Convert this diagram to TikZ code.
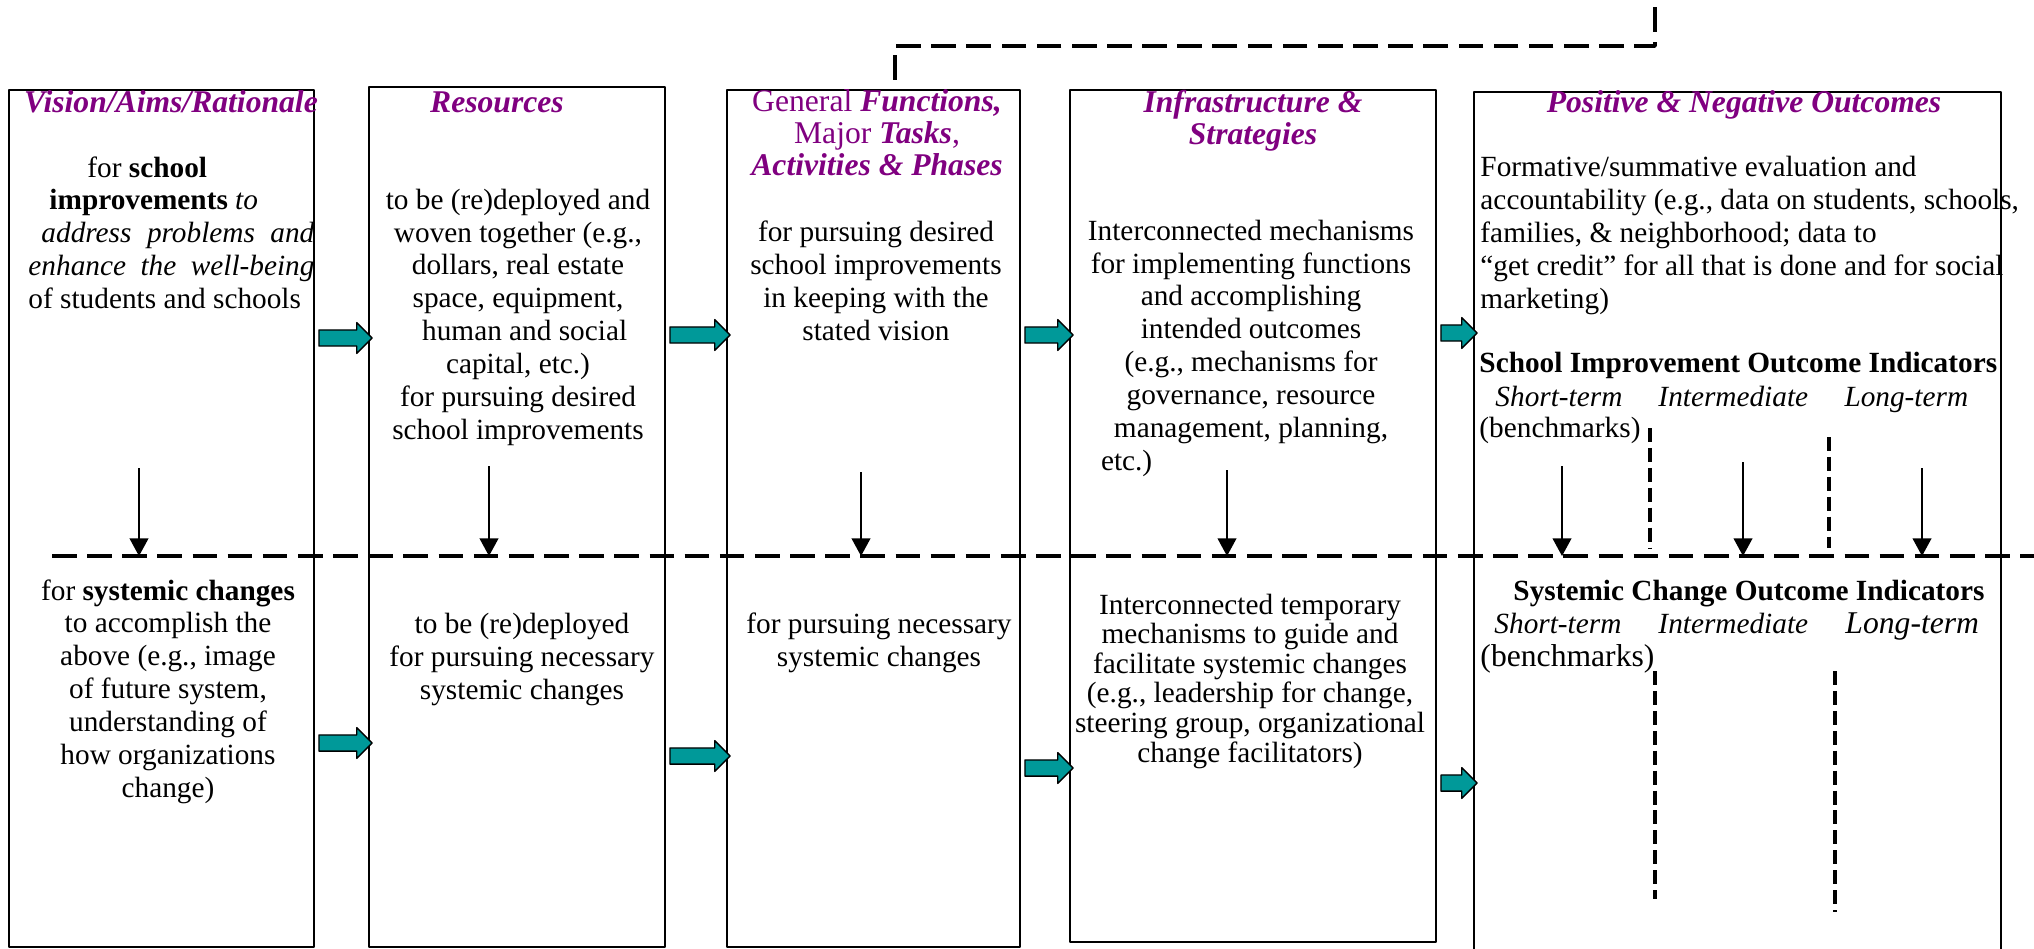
\documentclass[tikz,border=0pt]{standalone}
\usepackage{fontspec}
\setmainfont{Liberation Serif}
\usetikzlibrary{calc,fit,shapes.arrows,arrows.meta}
\definecolor{headpurple}{RGB}{128,0,128}
\definecolor{arrowteal}{RGB}{0,153,153}
\newcommand{\hl}[1]{\textbf{\textit{#1}}}
\tikzset{
  stage/.style={draw,line width=0.8pt,inner sep=0pt},
  heading/.style={text=headpurple,font=\fontsize{13.5}{13.5}\selectfont,align=center,inner sep=0pt},
  bodytext/.style={font=\fontsize{12.5}{14}\selectfont,align=center,inner sep=0pt},
  blockarrow/.style={single arrow,draw,fill=arrowteal,line width=0.6pt,inner xsep=0pt,
    inner ysep=1.1mm,minimum width=0pt,single arrow head extend=1.1mm},
  drop/.style={-{Triangle[width=8pt,length=7.5pt]},line width=0.6pt},
  splitline/.style={line width=2pt,dash pattern=on 10.5pt off 4.5pt},
  feedback/.style={line width=1.5pt,dash pattern=on 10.5pt off 4.5pt},
  stagesep/.style={line width=1.8pt,dash pattern=on 6pt off 2.5pt},
}
\begin{document}
\begin{tikzpicture}[x=0.15mm,y=-0.15mm,line join=round]
  \useasboundingbox (0,0) rectangle (2034,948);
  \node[stage,fit={(9,90) (314,947)}] (vision) {};
  \node[stage,fit={(369,87) (665,947)}] (resources) {};
  \node[stage,fit={(727,90) (1020,947)}] (functions) {};
  \node[stage,fit={(1070,90) (1436,942)}] (infra) {};
  \node[stage,fit={(1474,92) (2001,960)}] (outcomes) {};

  \node[heading,anchor=base] (visionhd) at (171,112) {\hl{Vision/Aims/Rationale}};
  \node[heading,anchor=base] (resourceshd) at (497,112) {\hl{Resources}};
  \node[heading,anchor=base] (functionshd) at (877,175) {General \hl{Functions,}\\ Major \hl{Tasks},\\ \hl{Activities \& Phases}};
  \node[heading,anchor=base] (infrahd) at (1253,144) {\hl{Infrastructure \&}\\ \hl{Strategies}};
  \node[heading,anchor=base] (outcomeshd) at (1744,112) {\hl{Positive \& Negative Outcomes}};

  \node[bodytext,anchor=base west,text width=42.9mm,align=justify] (visionup) at (28,177) {\hspace*{8.85mm}for \textbf{school}\\ \hspace*{3.15mm}\textbf{improvements} \textit{to}\\ \hspace*{1.95mm}\textit{address problems and}\linebreak \textit{enhance the well-being}\linebreak of students and schools};
  \node[bodytext,anchor=base] (resourcesup) at (518,439) {to be (re)deployed and\\ woven together (e.g.,\\ dollars, real estate\\ space, equipment,\\ \hspace*{2mm}human and social\\ capital, etc.)\\ for pursuing desired\\ school improvements};
  \node[bodytext,anchor=base] (functionsup) at (876,340) {for pursuing desired\\ school improvements\\ in keeping with the\\ stated vision};
  \node[bodytext,anchor=base] (infraup) at (1251,470) {Interconnected mechanisms\\ for implementing functions\\ and accomplishing\\ intended outcomes\\ (e.g., mechanisms for\\ governance, resource\\ management, planning,\\ \makebox[45mm][l]{etc.)}};
  \node[bodytext,anchor=base west,align=left] (outcomesup) at (1480,308) {Formative/summative evaluation and\\ accountability (e.g., data on students, schools,\\ families, \& neighborhood; data to\\ ``get credit'' for all that is done and for social\\ marketing)};
  \node[bodytext,anchor=base west] (siind) at (1479,372) {\textbf{School Improvement Outcome Indicators}};
  \node[bodytext,anchor=base west] (sishort) at (1495,406) {\textit{Short-term}};
  \node[bodytext,anchor=base west] (simid) at (1658,406) {\textit{Intermediate}};
  \node[bodytext,anchor=base west] (silong) at (1844,406) {\textit{Long-term}};
  \node[bodytext,anchor=base west] (sibench) at (1479,437) {(benchmarks)};

  \node[bodytext,anchor=base] (visionlow) at (168,797) {for \textbf{systemic changes}\\ to accomplish the\\ above (e.g., image\\ of future system,\\ understanding of\\ how organizations\\ change)};
  \node[bodytext,anchor=base] (resourceslow) at (522,699) {to be (re)deployed\\ for pursuing necessary\\ systemic changes};
  \node[bodytext,anchor=base] (functionslow) at (879,666) {for pursuing necessary\\ systemic changes};
  \node[bodytext,anchor=base,font=\fontsize{12.5}{12.6}\selectfont] (infralow) at (1250,762) {Interconnected temporary\\ mechanisms to guide and\\ facilitate systemic changes\\ (e.g., leadership for change,\\ steering group, organizational\\ change facilitators)};
  \node[bodytext,anchor=base west] (scind) at (1513,600) {\textbf{Systemic Change Outcome Indicators}};
  \node[bodytext,anchor=base west] (scshort) at (1494,633) {\textit{Short-term}};
  \node[bodytext,anchor=base west] (scmid) at (1658,633) {\textit{Intermediate}};
  \node[bodytext,anchor=base west,font=\fontsize{13.5}{15}\selectfont] (sclong) at (1845,633) {\textit{Long-term}};
  \node[bodytext,anchor=base west,font=\fontsize{13.5}{15}\selectfont] (scbench) at (1480,666) {(benchmarks)};

  \coordinate (cutW) at (52,556);
  \coordinate (cutE) at (2040,556);
  \draw[splitline] (cutW) -- (cutE);
  \foreach \x/\y [count=\i] in {139/468,489/466,861/472,1227/470,1562/466,1743/462,1922/468} {
    \coordinate (drop\i) at (\x,\y);
    \draw[drop] (drop\i) -- (drop\i |- cutW);
  }
  \foreach \x/\a/\b [count=\i] in {1650/428/548,1829/437/548,1655/671/899,1835/671/912} {
    \coordinate (sep\i top) at (\x,\a);
    \coordinate (sep\i bot) at (\x,\b);
    \draw[stagesep] (sep\i top) -- (sep\i bot);
  }
  \coordinate (fbtop) at (1655,7);
  \coordinate (fbcorner) at (895,46);
  \draw[feedback] (fbtop) |- (fbcorner) -- (fbcorner |- functions.north);

  \foreach \a/\b/\h [count=\i] in {vision/resources/338,resources/functions/335,functions/infra/335,infra/outcomes/333,
      vision/resources/743,resources/functions/756,functions/infra/768,infra/outcomes/783} {
    \coordinate (flowS) at (\a.east |- 0,\h);
    \coordinate (flowE) at (\b.west |- 0,\h);
    \path let \p1=(flowS), \p2=(flowE) in
      node[blockarrow,minimum height=\x2-\x1] (flow\i) at ($(flowS)!.5!(flowE)$) {};
  }
\end{tikzpicture}
\end{document}
